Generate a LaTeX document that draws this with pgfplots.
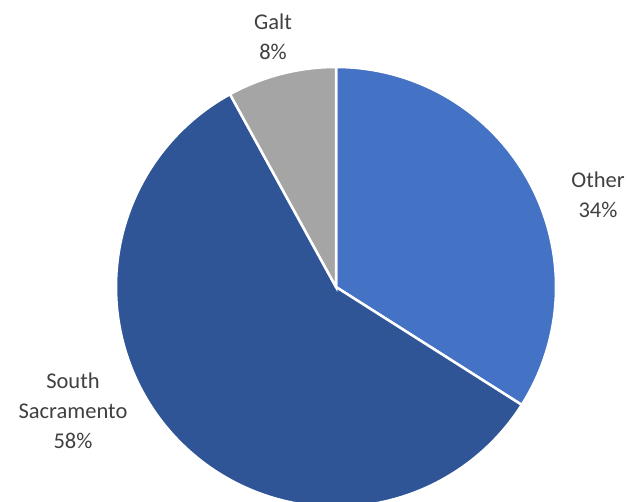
\documentclass[border=0pt]{standalone}
\usepackage{pgfplots}
\pgfplotsset{compat=1.18}
\usepackage{fontspec}
\setmainfont{Carlito}
\definecolor{cOther}{HTML}{4472C4}
\definecolor{cSouth}{HTML}{2F5597}
\definecolor{cGalt}{HTML}{A5A5A5}
\definecolor{txt}{HTML}{404040}
\tikzset{lbl/.style={font=\fontsize{22.5}{30}\selectfont, text=txt, align=center, inner sep=0pt}}
\begin{document}
\begin{tikzpicture}
% shares in percent
\def\vOther{34}
\def\vSouth{58}
\def\vGalt{8}
\pgfmathsetmacro{\aA}{90}
\pgfmathsetmacro{\aB}{\aA-3.6*\vOther}
\pgfmathsetmacro{\aC}{\aB-3.6*\vSouth}
\pgfmathsetmacro{\aD}{\aC-3.6*\vGalt}
\begin{axis}[hide axis, scale only axis, width=628pt, height=502pt,
  xmin=0, xmax=628, ymin=0, ymax=502, clip=true, samples=150]
\addplot[fill=cOther, draw=white, line width=2.5pt, domain=\aA:\aB] ({336+220*cos(x)},{215+220*sin(x)}) -- (axis cs:336,215) -- cycle;
\addplot[fill=cSouth, draw=white, line width=2.5pt, domain=\aB:\aC] ({336+220*cos(x)},{215+220*sin(x)}) -- (axis cs:336,215) -- cycle;
\addplot[fill=cGalt, draw=white, line width=2.5pt, domain=\aC:\aD] ({336+220*cos(x)},{215+220*sin(x)}) -- (axis cs:336,215) -- cycle;
\node[lbl] at (axis cs:273,465) {Galt\\8\%};
\node[lbl] at (axis cs:598,307) {Other\\34\%};
\node[lbl] at (axis cs:73,91) {South\\Sacramento\\58\%};
\end{axis}
\pgfresetboundingbox
\path (0,0) rectangle (628pt,502pt);
\end{tikzpicture}
\end{document}
